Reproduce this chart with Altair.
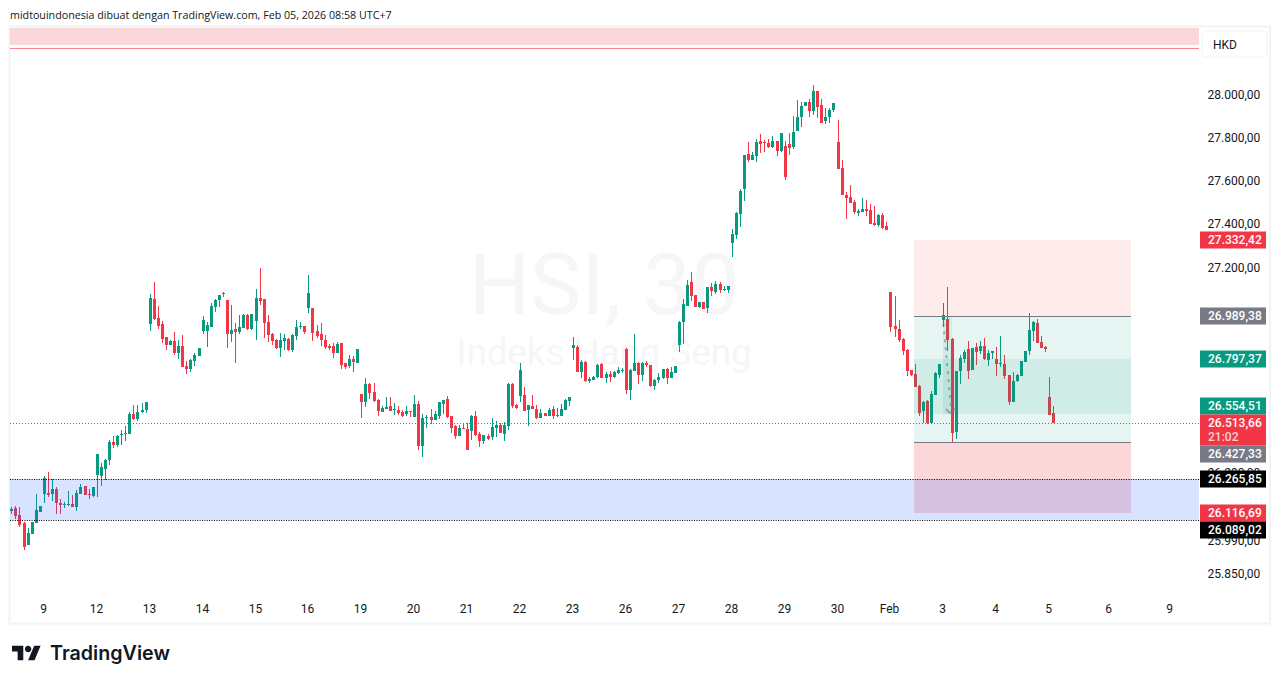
import altair as alt
import pandas as pd

GREEN = "#089981"
RED = "#f23645"
GREY = "#787b86"
INK = "#131722"
FONT = "Roboto"

# candles as (open, high, low, close), one list per stretch of the chart
jan_09 = [
    (26126, 26146, 26113, 26135), (26140, 26148, 26093, 26104), (26109, 26144, 26056, 26065), (26074, 26077, 25959, 25972),
    (25977, 26052, 25977, 26030), (26025, 26078, 26025, 26078), (26074, 26201, 26074, 26131), (26122, 26148, 26122, 26148),
    (26201, 26280, 26162, 26272), (26206, 26298, 26188, 26197), (26201, 26267, 26170, 26223), (26223, 26232, 26113, 26162),
    (26162, 26179, 26113, 26153), (26153, 26166, 26140, 26159), (26151, 26214, 26148, 26157), (26157, 26197, 26144, 26144),
    (26144, 26219, 26126, 26206), (26201, 26245, 26201, 26232), (26237, 26237, 26197, 26197), (26201, 26223, 26179, 26197),
    (26192, 26232, 26188, 26232), (26285, 26377, 26188, 26377), (26281, 26338, 26237, 26320), (26311, 26355, 26263, 26351),
    (26351, 26439, 26329, 26430), (26430, 26457, 26404, 26417), (26417, 26461, 26408, 26457), (26461, 26483, 26417, 26465),
    (26465, 26501, 26435, 26470), (26465, 26562, 26465, 26553), (26553, 26593, 26527, 26531), (26531, 26593, 26523, 26562),
    (26562, 26602, 26558, 26571), (26571, 26606, 26558, 26606),
]
jan_13 = [
    (26954, 27089, 26922, 27071), (27066, 27143, 26972, 26976), (26981, 27035, 26932, 26945), (26954, 26968, 26868, 26886),
    (26896, 26896, 26837, 26860), (26860, 26882, 26860, 26878), (26878, 26918, 26814, 26824), (26824, 26882, 26796, 26855),
    (26855, 26904, 26760, 26760), (26765, 26788, 26729, 26751), (26751, 26796, 26738, 26792), (26787, 26824, 26765, 26814),
    (26810, 26846, 26810, 26846), (26922, 26990, 26909, 26972), (26922, 26963, 26850, 26950), (26940, 27048, 26940, 27035),
    (27030, 27066, 27008, 27062), (27062, 27084, 27030, 27084), (27087, 27098, 27075, 27092), (27062, 27062, 26846, 26909),
    (26909, 27040, 26873, 26927), (26932, 26958, 26778, 26918), (26918, 26994, 26909, 26940), (26936, 26999, 26936, 26994),
    (26994, 26999, 26927, 26932), (26932, 26999, 26927, 26999), (26968, 27112, 26882, 27071), (27071, 27206, 27040, 27058),
    (27066, 27066, 26891, 26958), (26963, 26994, 26873, 26904), (26909, 26914, 26860, 26878), (26882, 26886, 26842, 26846),
    (26846, 26914, 26806, 26882), (26878, 26909, 26837, 26891), (26886, 26891, 26832, 26837), (26837, 26909, 26828, 26904),
    (26900, 26972, 26882, 26940), (26939, 26963, 26932, 26944), (26945, 26945, 26909, 26918), (27026, 27175, 27004, 27094),
    (27026, 27026, 26878, 26914), (26922, 26950, 26891, 26900), (26909, 26958, 26855, 26882), (26882, 26904, 26842, 26850),
    (26855, 26864, 26837, 26846), (26855, 26868, 26801, 26824), (26824, 26873, 26824, 26864), (26868, 26868, 26751, 26770),
    (26778, 26778, 26751, 26760), (26765, 26814, 26756, 26796), (26796, 26810, 26738, 26783), (26778, 26842, 26778, 26842),
]
jan_19 = [
    (26641, 26641, 26535, 26606), (26606, 26712, 26584, 26686), (26686, 26690, 26619, 26646), (26650, 26690, 26606, 26610),
    (26615, 26619, 26544, 26566), (26562, 26588, 26562, 26579), (26575, 26628, 26575, 26584), (26588, 26628, 26566, 26566),
    (26570, 26602, 26548, 26575), (26570, 26588, 26548, 26557), (26562, 26570, 26540, 26544), (26553, 26588, 26544, 26566),
    (26566, 26566, 26540, 26562), (26540, 26637, 26540, 26597), (26597, 26610, 26393, 26411), (26411, 26553, 26362, 26535),
    (26535, 26548, 26491, 26540), (26540, 26575, 26508, 26526), (26526, 26566, 26526, 26553), (26544, 26606, 26531, 26606),
    (26597, 26615, 26553, 26615), (26619, 26633, 26535, 26540), (26544, 26544, 26469, 26491), (26500, 26504, 26442, 26455),
    (26455, 26504, 26455, 26491), (26491, 26513, 26486, 26486), (26486, 26513, 26393, 26393), (26477, 26548, 26438, 26544),
    (26544, 26566, 26455, 26460), (26464, 26473, 26407, 26433), (26433, 26460, 26420, 26460), (26455, 26464, 26438, 26442),
    (26451, 26535, 26438, 26495), (26491, 26522, 26451, 26504), (26504, 26513, 26469, 26469), (26464, 26517, 26433, 26504),
    (26500, 26690, 26482, 26686), (26686, 26690, 26579, 26588), (26593, 26597, 26575, 26579), (26633, 26779, 26606, 26748),
    (26637, 26672, 26566, 26566), (26570, 26593, 26500, 26593), (26588, 26637, 26575, 26575), (26575, 26593, 26531, 26535),
    (26535, 26575, 26535, 26557), (26557, 26557, 26544, 26544), (26544, 26579, 26544, 26570), (26575, 26588, 26531, 26544),
    (26542, 26579, 26540, 26547), (26544, 26597, 26544, 26575), (26570, 26619, 26570, 26615), (26610, 26628, 26588, 26628),
]
jan_23 = [
    (26846, 26896, 26792, 26860), (26850, 26860, 26738, 26738), (26738, 26792, 26711, 26783), (26783, 26787, 26693, 26698),
    (26698, 26716, 26688, 26706), (26702, 26720, 26702, 26716), (26716, 26774, 26711, 26770), (26774, 26778, 26711, 26711),
    (26711, 26738, 26688, 26729), (26729, 26742, 26696, 26716), (26716, 26742, 26711, 26738), (26733, 26760, 26729, 26747),
    (26742, 26756, 26733, 26747), (26842, 26846, 26639, 26661), (26661, 26751, 26616, 26747), (26742, 26909, 26742, 26778),
    (26778, 26783, 26684, 26724), (26724, 26783, 26698, 26778), (26778, 26787, 26760, 26770), (26770, 26770, 26670, 26675),
    (26675, 26706, 26661, 26702), (26702, 26733, 26688, 26716), (26711, 26751, 26706, 26751), (26751, 26756, 26684, 26711),
    (26711, 26760, 26711, 26738), (26733, 26765, 26733, 26765), (26860, 26968, 26828, 26963), (26963, 27066, 26864, 27044),
    (27035, 27152, 27035, 27130), (27143, 27188, 27058, 27080), (27084, 27084, 27030, 27030), (27030, 27053, 27026, 27053),
    (27053, 27053, 27022, 27022), (27026, 27120, 27004, 27120), (27120, 27138, 27080, 27102), (27098, 27148, 27089, 27134),
    (27134, 27143, 27094, 27107), (27107, 27125, 27102, 27112), (27107, 27125, 27094, 27125),
]
jan_28 = [
    (27319, 27384, 27255, 27361), (27356, 27462, 27338, 27457), (27453, 27568, 27393, 27559), (27568, 27724, 27512, 27724),
    (27729, 27784, 27692, 27701), (27701, 27738, 27701, 27724), (27719, 27798, 27692, 27784), (27788, 27821, 27733, 27775),
    (27784, 27793, 27738, 27779), (27779, 27798, 27756, 27761), (27761, 27811, 27756, 27788), (27788, 27788, 27719, 27742),
    (27742, 27825, 27738, 27825), (27765, 27788, 27609, 27623), (27775, 27825, 27724, 27756), (27761, 27903, 27752, 27830),
    (27834, 27977, 27834, 27899), (27899, 27968, 27853, 27949), (27949, 27972, 27949, 27972), (27968, 27986, 27899, 27926),
    (27926, 28051, 27908, 28023), (28023, 28023, 27894, 27945), (27954, 27982, 27871, 27871), (27880, 27940, 27867, 27899),
    (27899, 27940, 27871, 27931), (27931, 27963, 27922, 27963), (27784, 27885, 27660, 27660), (27664, 27701, 27540, 27540),
    (27540, 27554, 27430, 27526), (27531, 27586, 27503, 27503), (27508, 27517, 27453, 27462), (27457, 27476, 27444, 27467),
    (27462, 27526, 27462, 27476), (27476, 27517, 27444, 27467), (27471, 27499, 27407, 27407), (27411, 27490, 27398, 27402),
    (27402, 27453, 27393, 27448), (27448, 27457, 27384, 27388), (27398, 27416, 27379, 27379),
]
feb_02 = [
    (27096, 27096, 26918, 26940), (26944, 27078, 26895, 26931), (26931, 26971, 26873, 26882), (26887, 26891, 26815, 26833),
    (26838, 26842, 26722, 26744), (26749, 26749, 26722, 26726), (26731, 26775, 26673, 26673), (26677, 26682, 26544, 26557),
    (26566, 26611, 26513, 26606), (26611, 26615, 26508, 26511), (26511, 26655, 26511, 26642), (26637, 26740, 26637, 26735),
    (26726, 26775, 26713, 26775), (26971, 27047, 26938, 26993), (26975, 27122, 26833, 26882), (26887, 26891, 26428, 26468),
    (26473, 26744, 26442, 26744), (26744, 26815, 26686, 26802), (26798, 26838, 26778, 26829), (26842, 26878, 26709, 26744),
    (26749, 26846, 26749, 26846), (26851, 26869, 26771, 26829), (26833, 26878, 26820, 26855), (26855, 26891, 26793, 26798),
    (26793, 26838, 26766, 26824), (26824, 26833, 26798, 26833), (26798, 26851, 26722, 26775), (26775, 26900, 26762, 26780),
    (26775, 26815, 26709, 26722), (26726, 26726, 26593, 26606), (26606, 26740, 26606, 26700), (26700, 26731, 26695, 26726),
    (26722, 26789, 26722, 26789), (26784, 26833, 26784, 26833), (26833, 27002, 26815, 26927), (26922, 26967, 26878, 26962),
    (26958, 26975, 26869, 26869), (26873, 26900, 26846, 26846), (26851, 26855, 26829, 26842), (26628, 26717, 26548, 26548),
    (26557, 26588, 26513.66, 26513.66),
]

day_ticks = [8, 21, 34, 47, 60, 73, 86, 99, 112, 125, 138, 151, 164, 177, 190, 203, 216, 229, 242, 255, 269.7, 284.7]
day_labels = ["9", "12", "13", "14", "15", "16", "19", "20", "21", "22", "23", "26", "27", "28", "29", "30", "Feb", "3", "4", "5", "6", "9"]
price_ticks = [28000, 27800, 27600, 27400, 27200, 26290, 25990, 25850]

# price tags: value, where the tag sits on the axis, colour
tag_values = [27332.42, 26989.38, 26797.37, 26554.51, 26427.33, 26265.85, 26116.69, 26089.02]
tag_pos = [27332.42, 26989.38, 26797.37, 26585.6, 26376.0, 26265.85, 26116.69, 26041.9]
tag_fill = [RED, GREY, GREEN, GREEN, GREY, "#000000", RED, "#000000"]
last_price = 26513.66
last_tag_pos = 26480.0
countdown = "21:02"

top_zone = [28236.7, 28316.8]
top_zone_line = 28222.6
blue_zone = [26089.02, 26265.85]
box_x = [221.8, 275.1]
box_stop = 27332.42
box_top = 26989.38
box_entry_hi = 26797.37
box_entry_lo = 26554.51
box_bottom = 26427.33
box_target = 26116.69
mark_x = [228.9, 231.1]

path_x = [229.0, 230.8]
path_p = [26972, 26587]
arrow_x = [229.6, 230.7, 232.2]
arrow_p = [26574, 26558, 26578]

x_scale = alt.Scale(domain=[-0.319, 291.8], nice=False, zero=False, round=True, padding=0)
y_scale = alt.Scale(type="log", domain=[25754.7, 28316.8], nice=False, round=True, padding=0)

rows = jan_09 + jan_13 + jan_19 + jan_23 + jan_28 + feb_02
df = pd.DataFrame(rows, columns=["open", "high", "low", "close"])
df["i"] = range(len(df))
df["dir"] = ["up" if c >= o else "down" for o, c in zip(df["open"], df["close"])]

colour = alt.Color("dir:N", scale=alt.Scale(domain=["up", "down"], range=[GREEN, RED]), legend=None)
xq = alt.X("i:Q", scale=x_scale, title=None, axis=alt.Axis(
    values=day_ticks,
    labelExpr="%s[indexof(%s, datum.value)]" % (day_labels, day_ticks),
    grid=False, domain=False, ticks=False, labelFont=FONT, labelFontSize=12, labelColor=INK,
    labelPadding=6, labelOffset=-1, labelOverlap=False, labelFlush=False,
))
yq = alt.Y("low:Q", scale=y_scale, title=None, axis=alt.Axis(
    orient="right", values=price_ticks,
    labelExpr="replace(format(datum.value, ',.0f'), ',', '.') + ',00'",
    grid=False, domain=False, ticks=False, labelFont=FONT, labelFontSize=12, labelColor=INK,
    labelPadding=8, labelOffset=-1.5, labelAlign="left", labelOverlap=False, labelFlush=False,
))

# half a pixel across so the one-pixel wicks and the bodies sit on whole pixels
wicks = alt.Chart(df).mark_rule(strokeWidth=1, xOffset=0.5).encode(x=xq, y=yq, y2="high:Q", color=colour)
bodies = alt.Chart(df).mark_bar(width=3, minBandSize=1, xOffset=0.5).encode(
    x=alt.X("i:Q", scale=x_scale), y=alt.Y("open:Q", scale=y_scale), y2="close:Q", color=colour)


def band(lo, hi, fill, alpha, x=None):
    d = {"lo": [lo], "hi": [hi]}
    enc = dict(y=alt.Y("lo:Q", scale=y_scale), y2="hi:Q")
    if x is not None:
        d["x0"], d["x1"] = [x[0]], [x[1]]
        enc.update(x=alt.X("x0:Q", scale=x_scale), x2="x1:Q")
    return alt.Chart(pd.DataFrame(d)).mark_rect(fill=fill, opacity=alpha).encode(**enc)


def level(p, stroke, dash=None, x=None, opacity=1):
    d = {"p": [p]}
    enc = dict(y=alt.Y("p:Q", scale=y_scale))
    if x is not None:
        d["x0"], d["x1"] = [x[0]], [x[1]]
        enc.update(x=alt.X("x0:Q", scale=x_scale), x2="x1:Q")
    kw = {"strokeDash": dash} if dash else {}
    return alt.Chart(pd.DataFrame(d)).mark_rule(stroke=stroke, strokeWidth=1, opacity=opacity, yOffset=0.5, **kw).encode(**enc)


one = pd.DataFrame({"a": [0]})


def note(text, x, y, size=12, color=INK, align="left", font=FONT, weight="normal"):
    return alt.Chart(one).mark_text(
        text=text, fontSize=size, color=color, align=align, baseline="middle", font=font, fontWeight=weight,
    ).encode(x=alt.value(x), y=alt.value(y))


frame = alt.Chart(one).mark_rect(fill="transparent", stroke="#f2f3f5", strokeWidth=2).encode(
    x=alt.value(-0.5), x2=alt.value(1260), y=alt.value(-1.5), y2=alt.value(595.5))
hkd_box = alt.Chart(one).mark_rect(fill="white", stroke="#f0f3fa", strokeWidth=1, cornerRadius=4).encode(
    x=alt.value(1192), x2=alt.value(1257), y=alt.value(3), y2=alt.value(29))

path_df = pd.DataFrame({"x": path_x, "p": path_p})
path = alt.Chart(path_df).mark_line(stroke=GREY, strokeWidth=2, strokeDash=[3, 5], opacity=0.6).encode(
    x=alt.X("x:Q", scale=x_scale), y=alt.Y("p:Q", scale=y_scale), order="p:Q")
arrow_df = pd.DataFrame({"x": arrow_x, "p": arrow_p, "o": range(len(arrow_x))})
arrow = alt.Chart(arrow_df).mark_line(stroke=GREY, strokeWidth=2, opacity=0.6).encode(
    x=alt.X("x:Q", scale=x_scale), y=alt.Y("p:Q", scale=y_scale), order="o:Q")


def price_text(v):
    return f"{v:,.2f}".replace(",", "#").replace(".", ",").replace("#", ".")


tags = pd.DataFrame({"pos": tag_pos, "fill": tag_fill, "text": [price_text(v) for v in tag_values]})
tag_rects = alt.Chart(tags).mark_rect(width=66, height=17).encode(
    x=alt.XDatum(300.2, scale=x_scale), y=alt.Y("pos:Q", scale=y_scale), fill=alt.Fill("fill:N", scale=None))
tag_texts = alt.Chart(tags).mark_text(align="left", baseline="middle", color="white", font=FONT, fontSize=12, fontWeight=500).encode(
    x=alt.value(1198), y=alt.Y("pos:Q", scale=y_scale), text="text:N")
last_df = pd.DataFrame({"pos": [last_tag_pos]})
last_rect = alt.Chart(last_df).mark_rect(width=66, height=31, fill=RED).encode(
    x=alt.XDatum(300.2, scale=x_scale), y=alt.Y("pos:Q", scale=y_scale))

logo_path = (
    "M-.222,.5H-.611V-.111H-1V-.5H-.222Z"
    "M.556,.5H.111L.528,-.5H.972Z"
    "M-.111,-.278a.222,.222 0 1,0 .444,0a.222,.222 0 1,0 -.444,0Z"
)
logo_mark = alt.Chart(one).mark_point(shape=logo_path, size=841, filled=True, fill=INK, opacity=1, strokeWidth=0).encode(
    x=alt.value(16.5), y=alt.value(625))

chart = alt.layer(
    frame,
    note("HSI, 30", 594, 260, size=86, color="#f6f6f8", align="center"),
    note("Indeks Hang Seng", 594, 326, size=36.7, color="#f6f6f8", align="center"),
    wicks,
    bodies,
    band(top_zone[0], top_zone[1], RED, 0.2),
    level(top_zone_line, RED, opacity=0.6),
    band(box_top, box_stop, RED, 0.1, box_x),
    band(box_bottom, box_top, GREEN, 0.1, box_x),
    band(box_entry_lo, box_entry_hi, GREEN, 0.1, box_x),
    band(box_target, box_bottom, RED, 0.2, box_x),
    band(box_entry_lo, box_top, GREEN, 0.1, mark_x),
    band(blue_zone[0], blue_zone[1], "#2962ff", 0.18),
    level(box_top, GREY, x=box_x),
    level(box_bottom, GREY, x=box_x),
    level(last_price, RED, dash=[1, 2]),
    level(blue_zone[0], "#000000", dash=[1, 1.4]),
    level(blue_zone[1], "#000000", dash=[1, 1.4]),
    path,
    arrow,
    tag_rects,
    last_rect,
    tag_texts,
    note(price_text(last_price), 1198, 394.7, color="white", weight=500),
    note(countdown, 1198, 408.7, color="#fcd0d4", weight=500),
    hkd_box,
    note("HKD", 1203, 16.5),
    note("midtouindonesia dibuat dengan TradingView.com, Feb 05, 2026 08:58 UTC+7", 0, -12.5, size=10.7, font="Open Sans"),
    logo_mark,
    note("TradingView", 40, 626, size=19.7, font="Inter", weight=600),
).properties(
    width=1189, height=569, padding={"left": 2, "top": 20, "right": 72, "bottom": 70},
    autosize=alt.AutoSizeParams(type="none"), background="white",
).configure_view(stroke=None)

chart.save("out.html", embed_options={"renderer": "svg", "actions": False})
